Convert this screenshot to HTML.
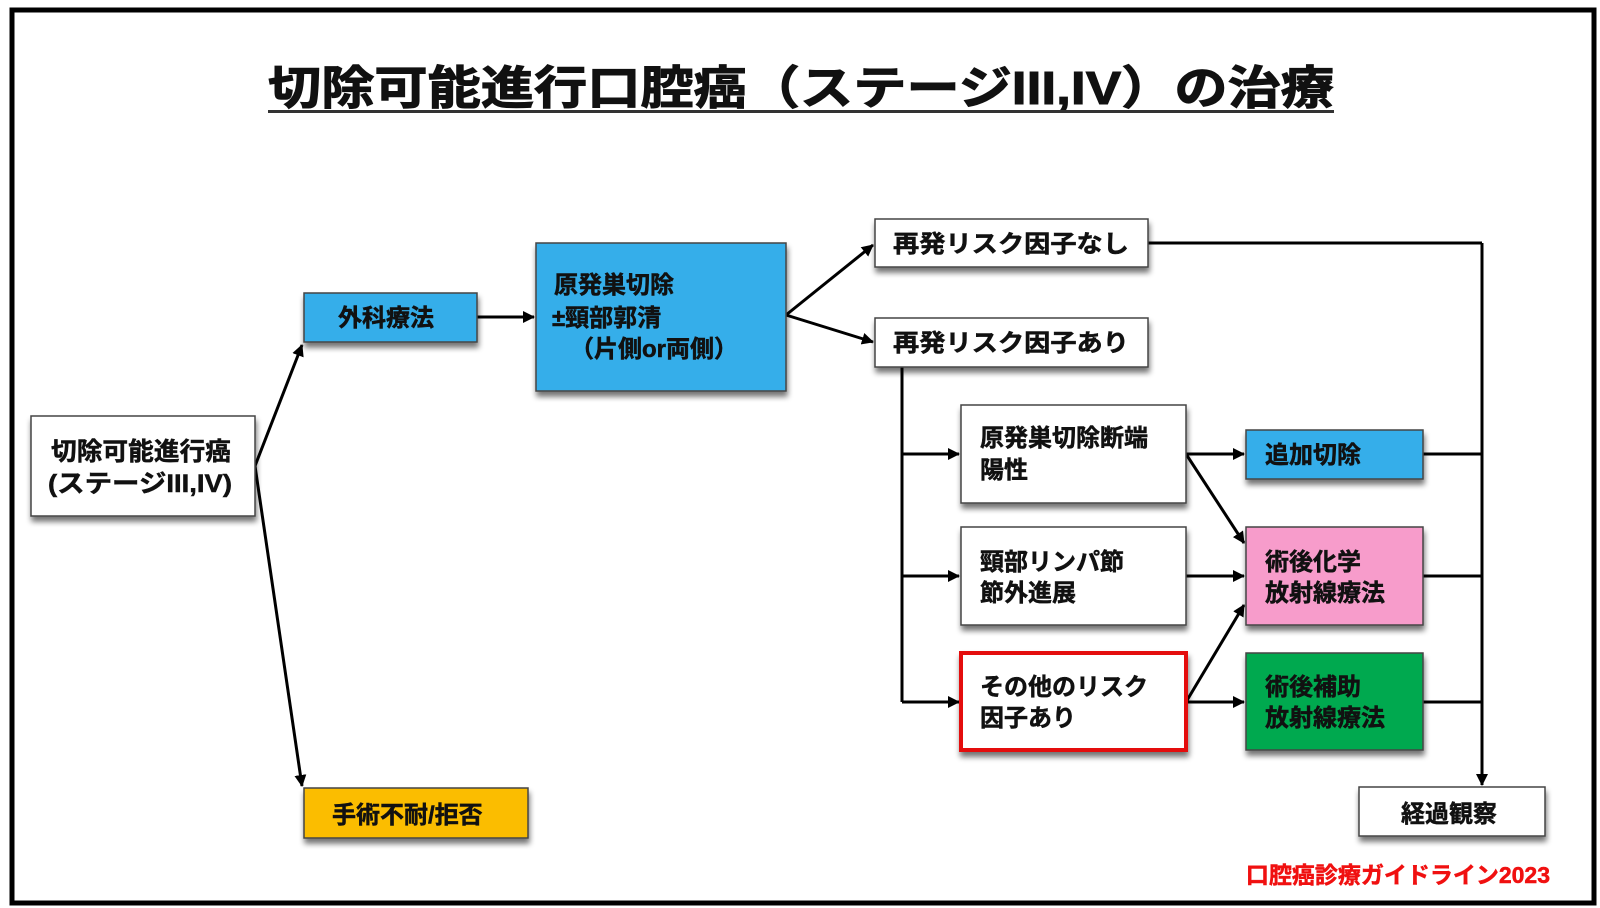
<!DOCTYPE html>
<html><head><meta charset="utf-8"><style>
html,body{margin:0;padding:0;background:#fff;}
svg{display:block;}
text{font-family:"Liberation Sans","Noto Sans CJK JP",sans-serif;font-weight:bold;fill:#111;stroke:#111;stroke-width:0.5;}
</style></head><body>
<svg width="1600" height="908" viewBox="0 0 1600 908" xmlns="http://www.w3.org/2000/svg">
<defs>
<filter id="sh" x="-10%" y="-10%" width="120%" height="140%">
<feGaussianBlur in="SourceAlpha" stdDeviation="3"/>
<feOffset dx="1" dy="5" result="b"/>
<feComponentTransfer><feFuncA type="linear" slope="0.55"/></feComponentTransfer>
<feMerge><feMergeNode/><feMergeNode in="SourceGraphic"/></feMerge>
</filter>
<marker id="ar" markerWidth="12" markerHeight="12" refX="11" refY="6" orient="auto" markerUnits="userSpaceOnUse">
<path d="M0,0 L12,6 L0,12 z" fill="#000"/>
</marker>
</defs>
<rect x="12" y="10" width="1582" height="893" fill="none" stroke="#000" stroke-width="5"/>
<text x="268" y="104" font-size="46" textLength="1066" lengthAdjust="spacingAndGlyphs" style="stroke-width:1">切除可能進行口腔癌（ステージIII,IV）の治療</text>
<rect x="268" y="110" width="1066" height="3" fill="#333"/>

<g stroke="#000" stroke-width="3" fill="none">
<line x1="255" y1="466" x2="302" y2="345" marker-end="url(#ar)"/>
<line x1="255" y1="466" x2="302" y2="786" marker-end="url(#ar)"/>
<line x1="477" y1="317" x2="534" y2="317" marker-end="url(#ar)"/>
<line x1="786" y1="315" x2="873" y2="245" marker-end="url(#ar)"/>
<line x1="786" y1="315" x2="873" y2="342" marker-end="url(#ar)"/>
<line x1="1148" y1="243" x2="1482" y2="243"/>
<line x1="1482" y1="243" x2="1482" y2="785" marker-end="url(#ar)"/>
<line x1="902" y1="367" x2="902" y2="702"/>
<line x1="902" y1="454" x2="959" y2="454" marker-end="url(#ar)"/>
<line x1="902" y1="576" x2="959" y2="576" marker-end="url(#ar)"/>
<line x1="902" y1="702" x2="959" y2="702" marker-end="url(#ar)"/>
<line x1="1186" y1="454" x2="1244" y2="454" marker-end="url(#ar)"/>
<line x1="1186" y1="454" x2="1244" y2="543" marker-end="url(#ar)"/>
<line x1="1186" y1="576" x2="1244" y2="576" marker-end="url(#ar)"/>
<line x1="1186" y1="702" x2="1244" y2="605" marker-end="url(#ar)"/>
<line x1="1186" y1="702" x2="1244" y2="702" marker-end="url(#ar)"/>
<line x1="1423" y1="454" x2="1482" y2="454"/>
<line x1="1423" y1="576" x2="1482" y2="576"/>
<line x1="1423" y1="702" x2="1482" y2="702"/>
</g>

<g filter="url(#sh)" stroke="#444" stroke-width="1.5">
<rect x="31" y="416" width="224" height="100" fill="#fff"/>
<rect x="304" y="293" width="173" height="49" fill="#35aeea"/>
<rect x="536" y="243" width="250" height="148" fill="#35aeea"/>
<rect x="875" y="219" width="273" height="48" fill="#fff"/>
<rect x="875" y="318" width="273" height="49" fill="#fff"/>
<rect x="961" y="405" width="225" height="98" fill="#fff"/>
<rect x="961" y="527" width="225" height="98" fill="#fff"/>
<rect x="961" y="653" width="225" height="97" fill="#fff" stroke="#e41010" stroke-width="4"/>
<rect x="1246" y="430" width="177" height="49" fill="#35aeea"/>
<rect x="1246" y="527" width="177" height="98" fill="#f79ccb"/>
<rect x="1246" y="653" width="177" height="97" fill="#00a950"/>
<rect x="1359" y="787" width="186" height="49" fill="#fff"/>
<rect x="304" y="788" width="224" height="50" fill="#fbbd00"/>
</g>

<g font-size="24">
<text x="51" y="460" font-size="25" textLength="180" lengthAdjust="spacingAndGlyphs">切除可能進行癌</text>
<text x="48" y="492" font-size="25" textLength="184" lengthAdjust="spacingAndGlyphs">(ステージIII,IV)</text>
<text x="338" y="326">外科療法</text>
<text x="554" y="293">原発巣切除</text>
<text x="552" y="326">±頸部郭清</text>
<text x="570" y="357">（片側or両側）</text>
<text x="893" y="252" textLength="236" lengthAdjust="spacingAndGlyphs">再発リスク因子なし</text>
<text x="893" y="351" textLength="236" lengthAdjust="spacingAndGlyphs">再発リスク因子あり</text>
<text x="980" y="446">原発巣切除断端</text>
<text x="980" y="478">陽性</text>
<text x="980" y="570">頸部リンパ節</text>
<text x="980" y="601">節外進展</text>
<text x="980" y="695">その他のリスク</text>
<text x="980" y="726">因子あり</text>
<text x="1265" y="463">追加切除</text>
<text x="1265" y="570">術後化学</text>
<text x="1265" y="601">放射線療法</text>
<text x="1265" y="695">術後補助</text>
<text x="1265" y="726">放射線療法</text>
<text x="1401" y="822">経過観察</text>
<text x="332" y="823">手術不耐/拒否</text>
</g>
<text x="1550" y="883" font-size="23" text-anchor="end" style="fill:#f01010;stroke:#f01010">口腔癌診療ガイドライン2023</text>
</svg>
</body></html>
